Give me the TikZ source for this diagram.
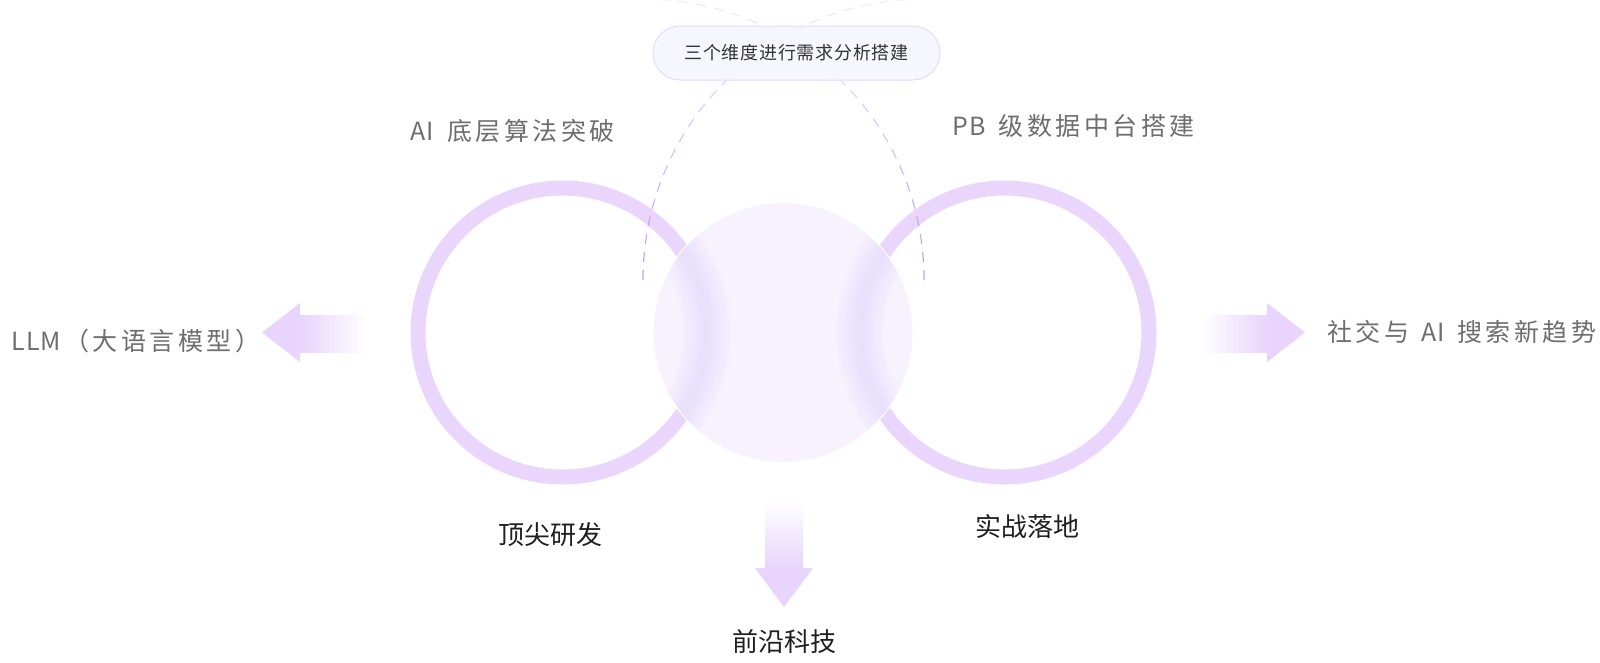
\documentclass[tikz,border=0pt]{standalone}
\usepackage{fontspec}
\setmainfont{Noto Sans CJK SC}
\usetikzlibrary{fadings}
\definecolor{ringc}{HTML}{EAD6FD}
\definecolor{centerc}{HTML}{F8F2FE}
\definecolor{arrowc}{HTML}{E8D4FC}
\definecolor{dashc}{HTML}{C39BF7}
\definecolor{pillfill}{HTML}{F5F6FE}
\definecolor{pillborder}{HTML}{E6DAFB}
\definecolor{graytxt}{HTML}{6E6E6E}
\definecolor{darktxt}{HTML}{1F1F1F}
\definecolor{pilltxt}{HTML}{333333}
\tikzfading[name=dashfade, top color=transparent!80, bottom color=transparent!0]
\newcommand{\latn}[1]{{\addfontfeature{LetterSpace=5}#1}}
\begin{document}
\begin{tikzpicture}[x=1pt,y=-1pt,
  sidelabel/.style={inner sep=0pt, text=graytxt, font=\fontsize{25}{30}\selectfont\addfontfeature{LetterSpace=14}},
  botlabel/.style={inner sep=0pt, text=darktxt, font=\fontsize{26}{30}\selectfont},
  ringline/.style={ringc, line width=15pt},
  dashline/.style={dashc, line width=1.2pt, dash pattern=on 10pt off 8pt, path fading=dashfade},
  pillbox/.style={draw=pillborder, line width=1pt, fill=pillfill, fill opacity=0.85, text opacity=1, text=pilltxt,
    rounded corners=27pt, minimum width=287pt, minimum height=54pt, inner sep=0pt,
    font=\fontsize{18}{22}\selectfont\addfontfeature{LetterSpace=4}}
]
\useasboundingbox (0,0) rectangle (1600,662);
\fill[white] (0,0) rectangle (1600,662);

% rings
\coordinate (lc) at (562.5,332.5);
\coordinate (rc) at (1004.5,332.5);
\coordinate (cc) at (783,332.5);
\draw[ringline] (lc) circle (144.5);
\draw[ringline] (rc) circle (144.5);

% dashed arcs
\draw[dashline] (643,280) arc[start angle=180, end angle=268, radius=281];
\draw[dashline] (924,280) arc[start angle=0, end angle=-88, radius=281];

% centre frosted circle
\fill[centerc] (cc) circle (130);
\begin{scope}
  \clip (cc) circle (130);
  \foreach \w in {50,47,...,5}{
    \draw[ringc, line width=\w pt, opacity=0.04] (lc) circle (144.5);
    \draw[ringc, line width=\w pt, opacity=0.04] (rc) circle (144.5);
  }
\end{scope}
\draw[white, line width=1pt] (cc) circle (130);

% arrows
\fill[arrowc] (262,332.5) -- (300,303) -- (300,362) -- cycle;
\shade[left color=arrowc, right color=white] (299.5,315) rectangle (368,352);
\fill[arrowc] (1305,332.5) -- (1267,303) -- (1267,362) -- cycle;
\shade[left color=white, right color=arrowc] (1200,315) rectangle (1267.5,352);
\fill[arrowc] (784,607) -- (755,568) -- (813,568) -- cycle;
\shade[top color=white, bottom color=arrowc] (765,500) rectangle (803,568.5);

% pill
\node[pillbox] (pill) at (796.5,53) {三个维度进行需求分析搭建};

% labels
\node[sidelabel, anchor=west] (ai) at (410,131.5) {\latn{AI}\hspace{4pt} 底层算法突破};
\node[sidelabel, anchor=west] (pb) at (952,125.5) {\latn{PB}\hspace{4pt} 级数据中台搭建};
\node[sidelabel, anchor=west] (llm) at (11,341) {\latn{LLM}\hspace{3pt}（大语言模型）};
\node[sidelabel, anchor=west] (soc) at (1327,332) {社交与\hspace{3pt} \latn{AI}\hspace{3pt} 搜索新趋势};
\node[botlabel] (dj) at (550,535) {顶尖研发};
\node[botlabel] (sz) at (1027,527) {实战落地};
\node[botlabel] (qy) at (784,642) {前沿科技};
\end{tikzpicture}
\end{document}
